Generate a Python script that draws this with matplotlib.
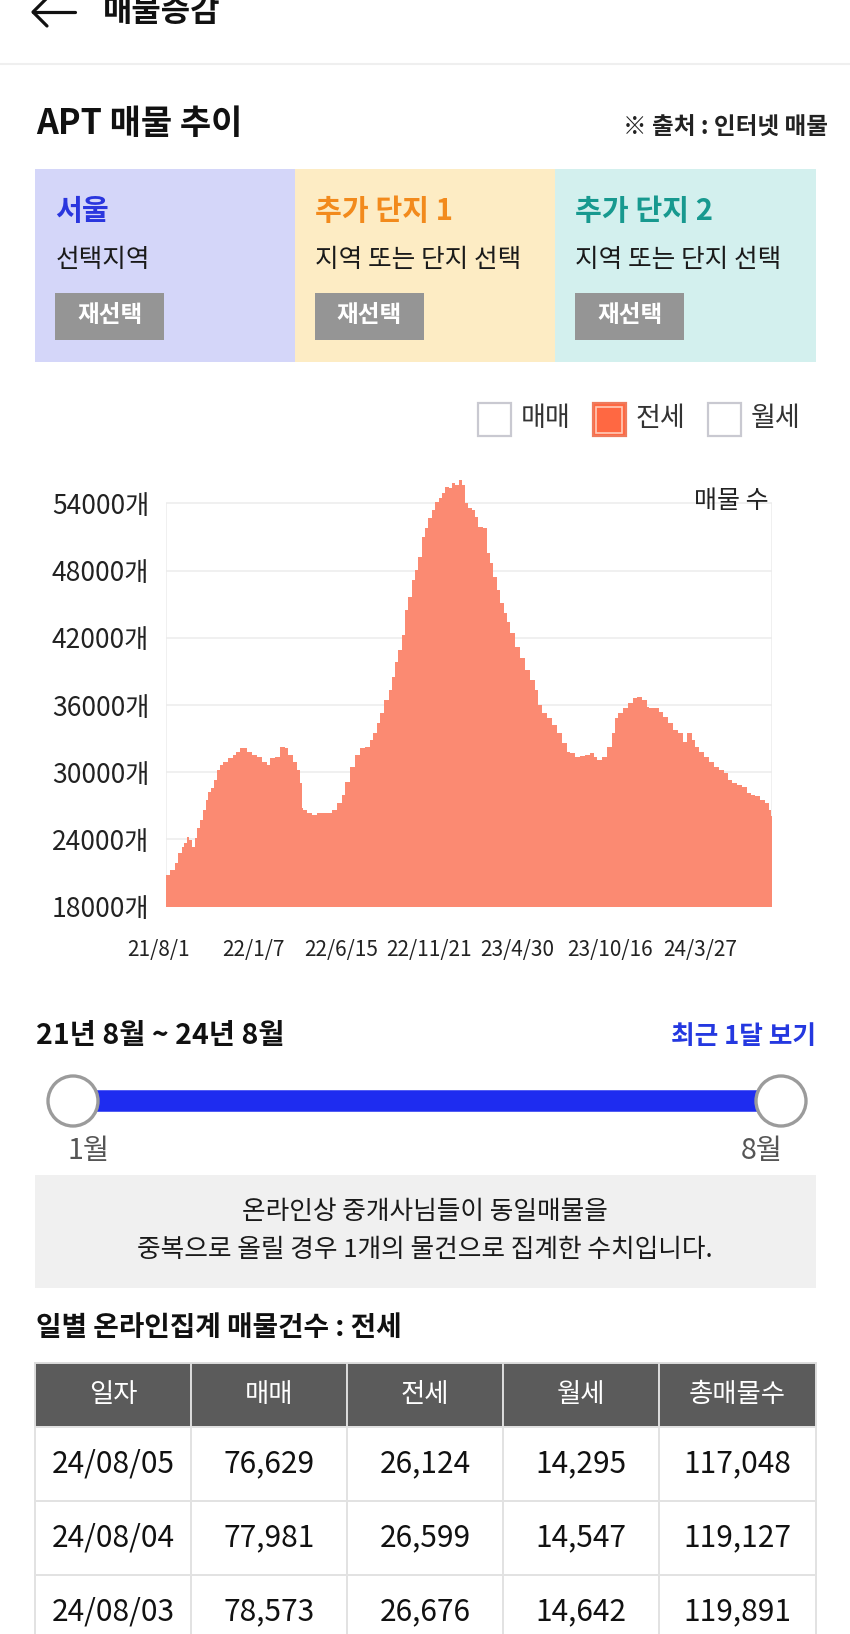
import matplotlib
matplotlib.use("Agg")
import matplotlib.pyplot as plt
import matplotlib.transforms as mtransforms
from matplotlib.patches import Rectangle, Circle
from datetime import datetime

plt.rcParams['font.family'] = ['Noto Sans CJK KR', 'DejaVu Sans']

# 전세 매물 수 - x 는 21/8/1 부터 지난 일 수
days = [0, 7, 16, 22, 29, 33, 38, 42, 48, 53, 57, 62, 67, 72, 77, 81, 87, 92, 98, 104,
        113, 121, 127, 134, 147, 156, 165, 174, 183, 189, 198, 207, 216, 222, 230, 237, 243, 247, 249, 256,
        265, 274, 286, 301, 310, 319, 325, 334, 343, 352, 361, 370, 376, 383, 389, 396, 404, 410, 416, 422,
        428, 434, 440, 446, 452, 458, 464, 470, 476, 483, 489, 495, 501, 507, 513, 519, 525, 531, 537, 543,
        549, 555, 561, 567, 576, 582, 588, 594, 601, 607, 613, 619, 625, 634, 643, 652, 661, 670, 676, 682,
        691, 700, 710, 719, 728, 734, 743, 752, 761, 770, 776, 782, 791, 800, 809, 815, 821, 830, 839, 848,
        855, 864, 873, 876, 885, 894, 903, 912, 921, 930, 939, 946, 955, 961, 967, 976, 985, 994, 1003, 1012,
        1021, 1027, 1036, 1045, 1054, 1061, 1070, 1079, 1088, 1094, 1099, 1100]
jeonse = [20231, 20826, 21273, 21868, 22760, 23355, 23653, 24248, 23950, 23355, 24099, 24991, 25735, 26628, 27520, 28264, 28561, 29305, 30198, 30644,
          30941, 31239, 31536, 31834, 32131, 31834, 31536, 31388, 30941, 30644, 31239, 31388, 32280, 32131, 31536, 30941, 30198, 29008, 26776, 26628,
          26330, 26181, 26330, 26330, 26628, 27223, 27966, 29156, 30495, 31536, 32131, 32280, 32875, 33470, 34363, 35255, 36445, 37338, 38528, 39866,
          40908, 42246, 44478, 45668, 47155, 48048, 49238, 51023, 51766, 52659, 53403, 54146, 54444, 54890, 55485, 55336, 55783, 55634, 56080, 55634,
          54000, 53551, 53403, 52808, 51915, 51766, 49535, 48643, 47453, 46263, 45073, 44180, 43436, 42395, 41205, 40164, 39123, 38230, 37338, 35999,
          35255, 34809, 34214, 33470, 32578, 31834, 31685, 31388, 31447, 31536, 31685, 31388, 31090, 31388, 32280, 33470, 34809, 35255, 35701, 36148,
          36594, 36743, 36445, 35850, 35701, 35701, 35404, 34958, 34363, 33768, 33470, 32726, 33470, 32875, 32280, 31834, 31388, 30941, 30495, 30198,
          29900, 29305, 29008, 28859, 28710, 28115, 27966, 27877, 27520, 27223, 26599, 26124]

y_ticks = [18000, 24000, 30000, 36000, 42000, 48000, 54000]
x_labels = ["21/8/1", "22/1/7", "22/6/15", "22/11/21", "23/4/30", "23/10/16", "24/3/27"]

regions = ["서울", "추가 단지 1", "추가 단지 2"]
region_sub = ["선택지역", "지역 또는 단지 선택", "지역 또는 단지 선택"]
region_colors = ["#2a36de", "#f28a1c", "#17998f"]
card_colors = ["#d4d6f9", "#fdecc4", "#d3f0ee"]

legend_items = ["매매", "전세", "월세"]
legend_on = [False, True, False]

table_cols = ["일자", "매매", "전세", "월세", "총매물수"]
table_rows = [
    ["24/08/05", "76,629", "26,124", "14,295", "117,048"],
    ["24/08/04", "77,981", "26,599", "14,547", "119,127"],
    ["24/08/03", "78,573", "26,676", "14,642", "119,891"],
]

W, H = 850, 1634
fig = plt.figure(figsize=(W / 100, H / 100), dpi=100)
page = fig.add_axes([0, 0, 1, 1])
page.set_xlim(0, W)
page.set_ylim(H, 0)
page.axis("off")

# 상단 헤더
page.plot([33, 75], [12, 12], color="#111111", lw=2.3, solid_capstyle="round")
page.plot([47, 33, 47], [-2, 12, 26], color="#111111", lw=2.3, solid_capstyle="round")
page.text(103, 12, "매물증감", fontsize=23, fontweight="bold", color="#111111", va="center")
page.plot([0, W], [64, 64], color="#efefef", lw=1.5)

page.text(36, 123, "APT 매물 추이", fontsize=24.5, fontweight="bold", color="#111111", va="center")
page.text(828, 128, "※ 출처 : 인터넷 매물", fontsize=17, fontweight="bold", color="#222222",
          va="center", ha="right")

# 지역 카드
card_x = [35.4, 294.8, 555.2]
card_w = 260.4
for i in range(3):
    x0 = card_x[i]
    page.add_patch(Rectangle((x0, 169), card_w, 192.5, color=card_colors[i], lw=0))
    page.text(x0 + 20, 211, regions[i], fontsize=21, fontweight="bold", color=region_colors[i], va="center")
    page.text(x0 + 20, 260, region_sub[i], fontsize=18.5, color="#1a1a1a", va="center")
    page.add_patch(Rectangle((x0 + 20, 293), 109, 47, color="#959595", lw=0))
    page.text(x0 + 74.5, 315, "재선택", fontsize=17, fontweight="bold", color="white", ha="center", va="center")

# 범례
leg_x = [478, 593, 708]
for i in range(3):
    x0 = leg_x[i]
    if legend_on[i]:
        page.add_patch(Rectangle((x0, 403), 33, 33, facecolor="#ff6842", edgecolor="#ee7a5c", lw=1.6))
        page.add_patch(Rectangle((x0 + 3.5, 406.5), 26, 26, facecolor="none", edgecolor="#ffcbb8", lw=1.2))
    else:
        page.add_patch(Rectangle((x0, 403), 33, 33, facecolor="white", edgecolor="#c9c9d1", lw=1.6))
    page.text(x0 + 43, 418, legend_items[i], fontsize=19.5, color="#333333", va="center")

# 차트
ax = fig.add_axes([166 / W, (H - 906.7) / H, (772 - 166) / W, (906.7 - 469.7) / H])
ax.set_facecolor("none")
ax.fill_between(days, jeonse, y_ticks[0], step="pre", color="#fb8a72", lw=0, zorder=2)
ax.set_xlim(days[0], days[-1])
ax.set_ylim(y_ticks[0], 57000)
ax.set_yticks(y_ticks)
ax.set_yticklabels([f"{v}개" for v in y_ticks])
ax.grid(axis="y", color="#ececec", lw=1.1)
ax.set_axisbelow(True)
ax.vlines([days[0], days[-1]], y_ticks[0], y_ticks[-1], color="#ececec", lw=1.1, zorder=1)

start = datetime.strptime(x_labels[0], "%y/%m/%d")
tick_pos = [(datetime.strptime(s, "%y/%m/%d") - start).days for s in x_labels]
ax.set_xticks(tick_pos)
ax.set_xticklabels(x_labels)
for s in ax.spines.values():
    s.set_visible(False)
ax.tick_params(axis="y", length=0, pad=12, labelsize=19, labelcolor="#222222")
ax.tick_params(axis="x", length=0, pad=23, labelsize=15, labelcolor="#222222")
# 첫 라벨은 왼쪽으로 조금 밀려 있음
first = ax.get_xticklabels()[0]
first.set_transform(first.get_transform() + mtransforms.ScaledTranslation(-0.07, 0, fig.dpi_scale_trans))
ax.text(0.995, 0.928, "매물 수", transform=ax.transAxes, ha="right", va="center",
        fontsize=18, color="#222222", zorder=5)

# 기간 및 슬라이더
page.text(36, 1036, "21년 8월 ~ 24년 8월", fontsize=20.5, fontweight="bold", color="#111111", va="center")
page.text(816, 1036, "최근 1달 보기", fontsize=18.5, fontweight="bold", color="#2438e0", va="center", ha="right")
page.plot([73, 781], [1101, 1101], color="#1e2cf0", lw=15.5, solid_capstyle="butt", zorder=2)
for cx in [73, 781]:
    page.add_patch(Circle((cx, 1101), 25, facecolor="white", edgecolor="#9b9b9b", lw=2.4, zorder=3))
page.text(89, 1151, "1월", fontsize=20.5, color="#555555", ha="center", va="center")
page.text(762, 1151, "8월", fontsize=20.5, color="#555555", ha="center", va="center")

# 안내 박스
page.add_patch(Rectangle((35, 1175), 781, 113, color="#f0f0f0", lw=0))
page.text(425, 1212, "온라인상 중개사님들이 동일매물을", fontsize=18.5, color="#1a1a1a", ha="center", va="center")
page.text(425, 1250, "중복으로 올릴 경우 1개의 물건으로 집계한 수치입니다.", fontsize=18.5, color="#1a1a1a",
          ha="center", va="center")

# 표
page.text(36, 1328, "일별 온라인집계 매물건수 : 전세", fontsize=20, fontweight="bold", color="#111111", va="center")
col_x = [35.4, 190.6, 346.9, 503.1, 659.4, 815.6]
row_y = [1427, 1501, 1575, 1649]
for j in range(5):
    page.add_patch(Rectangle((col_x[j], 1363), col_x[j + 1] - col_x[j], 64, facecolor="#5b5b5b",
                             edgecolor="#dddddd", lw=1.4))
    page.text((col_x[j] + col_x[j + 1]) / 2, 1394, table_cols[j], fontsize=19, color="white",
              ha="center", va="center")
for r, row in enumerate(table_rows):
    for j in range(5):
        page.add_patch(Rectangle((col_x[j], row_y[r]), col_x[j + 1] - col_x[j], row_y[r + 1] - row_y[r],
                                 facecolor="white", edgecolor="#e2e2e2", lw=1.4))
        page.text((col_x[j] + col_x[j + 1]) / 2, (row_y[r] + row_y[r + 1]) / 2, row[j], fontsize=21.5,
                  color="#111111", ha="center", va="center")

fig.savefig("out.png", dpi=100)
